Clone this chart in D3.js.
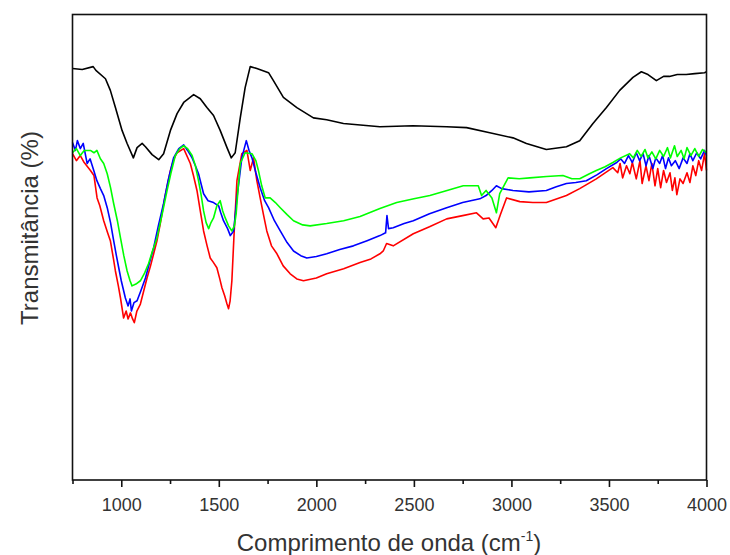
<!DOCTYPE html>
<html>
<head>
<meta charset="utf-8">
<script src="https://cdn.jsdelivr.net/npm/d3@7"></script>
<style>
body { margin: 0; background: #fff; }
</style>
</head>
<body>
<div id="chart"></div>
<script>
// FTIR spectra: [wavenumber (cm-1), transmittance]
var black = [[750,88.4],[800,88.2],[856,88.8],[870,88.0],[919,86.2],[944,83.7],[970,80.0],[1004,75.1],[1030,72.3],[1062,69.2],
    [1081,71.4],[1107,72.3],[1124,71.6],[1158,69.9],[1192,68.8],[1217,70.1],[1252,75.1],[1286,78.7],[1320,81.1],[1371,82.8],
    [1405,81.9],[1439,80.0],[1473,78.3],[1507,75.1],[1542,71.4],[1564,69.2],[1584,70.3],[1610,77.8],[1635,84.3],[1661,88.8],
    [1695,88.4],[1755,87.5],[1780,85.8],[1831,82.2],[1900,80.0],[1985,77.8],[2053,77.4],[2139,76.6],[2326,75.9],[2495,76.1],
    [2668,75.9],[2770,75.7],[2889,74.6],[3008,73.5],[3077,72.3],[3179,71.0],[3282,71.6],[3350,72.9],[3418,76.6],[3487,80.0],
    [3555,83.7],[3623,86.5],[3666,87.7],[3700,87.1],[3743,85.8],[3780,86.7],[3810,86.7],[3850,87.1],[3896,87.1],[3940,87.3],
    [3990,87.5],[4000,87.7]];

var red = [[750,70.1],[770,68.6],[790,69.7],[810,68.2],[842,66.5],[860,65.4],[876,60.6],[890,58.9],[910,55.7],[930,53.1],
    [944,51.4],[960,47.5],[970,44.9],[985,41.7],[996,39.1],[1012,34.8],[1025,36.3],[1035,34.6],[1047,35.9],[1058,34.6],
    [1067,33.8],[1080,36.3],[1098,37.8],[1115,40.6],[1132,43.4],[1150,46.0],[1166,48.6],[1183,51.4],[1200,55.1],[1225,61.1],
    [1252,66.5],[1270,69.0],[1286,70.3],[1320,71.2],[1354,68.0],[1370,65.4],[1388,62.2],[1405,57.8],[1422,53.5],[1440,50.3],
    [1456,47.7],[1473,46.7],[1490,45.6],[1505,43.2],[1516,41.3],[1530,39.6],[1542,37.8],[1550,36.8],[1558,38.5],[1567,42.8],
    [1579,53.5],[1593,64.3],[1618,70.1],[1644,70.8],[1661,66.5],[1678,69.2],[1695,64.3],[1712,60.6],[1730,56.8],[1746,53.5],
    [1770,50.3],[1798,48.6],[1830,46.0],[1866,44.3],[1900,43.2],[1934,42.8],[2000,43.4],[2053,44.3],[2140,45.4],[2224,46.7],
    [2280,47.5],[2326,48.6],[2343,49.2],[2360,50.8],[2394,50.3],[2497,52.9],[2580,54.4],[2668,56.1],[2750,56.8],[2821,57.4],
    [2855,56.1],[2885,56.3],[2920,54.2],[2945,57.2],[2975,60.6],[3043,59.8],[3110,59.6],[3179,59.6],[3282,61.1],[3350,62.6],
    [3435,64.7],[3520,67.1],[3545,66.0],[3557,68.0],[3570,64.9],[3590,67.5],[3607,65.8],[3620,68.2],[3640,64.7],[3659,68.6],
    [3670,63.7],[3690,67.5],[3705,64.3],[3720,68.0],[3736,63.2],[3750,66.9],[3765,62.8],[3780,66.5],[3795,63.9],[3813,66.0],
    [3825,62.2],[3838,64.9],[3848,61.3],[3864,64.7],[3880,63.7],[3900,66.0],[3915,63.9],[3930,67.5],[3945,65.4],[3960,68.6],
    [3975,66.5],[3990,70.1],[4000,66.5]];

var blue = [[750,72.5],[765,70.8],[775,72.9],[790,71.2],[805,72.3],[825,68.0],[840,69.0],[859,66.5],[875,64.3],[893,62.6],
    [910,61.1],[928,58.5],[945,55.3],[961,51.4],[975,48.2],[987,45.6],[1000,42.8],[1021,39.1],[1035,37.4],[1045,38.9],
    [1052,36.3],[1065,38.1],[1081,38.5],[1100,40.6],[1124,43.4],[1145,46.7],[1166,49.9],[1190,54.6],[1217,59.4],[1240,64.3],
    [1268,69.2],[1295,71.2],[1320,72.0],[1340,70.8],[1363,69.2],[1380,67.5],[1396,65.8],[1422,61.5],[1445,60.0],[1473,59.6],
    [1499,58.9],[1510,57.4],[1524,55.7],[1545,54.0],[1559,52.5],[1576,53.5],[1593,60.6],[1618,69.2],[1641,72.9],[1655,70.8],
    [1670,69.2],[1690,66.0],[1712,62.8],[1735,60.0],[1755,58.5],[1785,55.7],[1815,53.5],[1850,51.0],[1883,49.2],[1920,48.2],
    [1951,47.7],[2000,48.0],[2053,48.6],[2120,49.5],[2190,50.3],[2260,51.4],[2326,52.5],[2355,53.1],[2362,56.8],[2370,54.0],
    [2394,54.2],[2450,55.1],[2497,55.7],[2580,57.2],[2668,58.5],[2750,59.6],[2838,60.4],[2870,61.1],[2900,62.2],[2923,63.2],
    [2950,62.6],[3008,62.2],[3090,61.9],[3179,62.2],[3230,63.0],[3282,63.7],[3330,63.9],[3384,64.3],[3440,65.6],[3487,66.9],
    [3540,68.2],[3560,69.0],[3580,68.0],[3600,69.7],[3620,68.2],[3640,70.3],[3657,68.6],[3675,70.1],[3690,67.5],[3705,69.7],
    [3725,66.9],[3740,69.2],[3760,68.0],[3775,69.7],[3790,66.9],[3805,69.2],[3820,67.5],[3840,68.6],[3860,66.9],[3880,69.2],
    [3900,68.0],[3915,70.1],[3930,68.6],[3950,70.3],[3970,69.0],[3990,70.8],[4000,69.7]];

var green = [[750,70.3],[770,71.2],[790,69.7],[810,70.8],[842,70.8],[860,70.3],[875,70.8],[893,69.0],[910,68.0],[928,65.8],
    [945,62.8],[961,59.4],[980,55.7],[996,52.0],[1013,48.2],[1030,44.9],[1045,42.8],[1055,41.7],[1075,42.1],[1098,42.8],
    [1120,44.5],[1140,46.5],[1160,49.2],[1183,52.0],[1210,57.2],[1235,62.2],[1255,66.0],[1277,69.7],[1300,71.2],[1320,71.8],
    [1340,71.2],[1363,69.7],[1380,67.5],[1396,64.3],[1410,61.1],[1422,57.8],[1435,55.3],[1448,54.0],[1460,55.3],[1473,56.3],
    [1490,58.9],[1507,60.0],[1520,57.8],[1533,56.3],[1550,54.6],[1567,53.5],[1580,54.6],[1589,57.2],[1600,63.2],[1610,68.0],
    [1635,70.3],[1670,70.1],[1690,68.6],[1703,66.5],[1720,63.2],[1738,60.6],[1763,60.6],[1790,59.6],[1815,58.5],[1850,57.0],
    [1883,55.7],[1930,54.8],[1968,54.6],[2053,55.1],[2140,55.7],[2224,56.6],[2326,58.3],[2412,59.6],[2500,60.4],[2582,61.1],
    [2670,62.2],[2753,63.2],[2830,63.2],[2847,61.1],[2870,62.2],[2900,60.6],[2923,57.4],[2940,61.5],[2983,64.9],[3040,64.7],
    [3094,64.9],[3180,65.2],[3264,65.4],[3310,64.7],[3350,64.7],[3400,65.8],[3435,66.5],[3480,67.3],[3520,68.2],[3560,69.2],
    [3606,70.1],[3625,69.2],[3645,70.8],[3665,69.5],[3685,71.0],[3700,69.2],[3720,70.5],[3740,69.0],[3760,70.8],[3780,69.5],
    [3800,71.4],[3815,69.2],[3836,71.8],[3850,69.5],[3870,70.8],[3885,69.0],[3900,71.4],[3920,69.7],[3940,71.2],[3960,69.5],
    [3980,71.0],[4000,70.3]];

var majorTicks = [1000, 1500, 2000, 2500, 3000, 3500, 4000];
var minorTicks = [750, 1250, 1750, 2250, 2750, 3250, 3750];

var margin = { top: 14.5, right: 23.5, bottom: 75, left: 72.5 },
    width = 730 - margin.left - margin.right,
    height = 555 - margin.top - margin.bottom;

var svg = d3.select("#chart").append("svg")
    .attr("width", 730)
    .attr("height", 555)
    .style("font-family", "'Liberation Sans', Arial, sans-serif");

var g = svg.append("g")
    .attr("transform", "translate(" + margin.left + "," + margin.top + ")");

var x = d3.scaleLinear().domain([750, 4000]).range([0, width]);
var y = d3.scaleLinear().domain([0, 100]).range([height, 0]);

var line = d3.line()
    .x(function(d) { return x(d[0]); })
    .y(function(d) { return y(d[1]); });

// spectra
var series = [
    { data: black, color: "#000000" },
    { data: red, color: "#ff0000" },
    { data: blue, color: "#0000ff" },
    { data: green, color: "#00ff00" }
];
series.forEach(function(s) {
    g.append("path")
        .datum(s.data)
        .attr("d", line)
        .attr("fill", "none")
        .attr("stroke", s.color)
        .attr("stroke-width", 1.6)
        .attr("stroke-linejoin", "round");
});

// minor ticks
var minorAxis = g.append("g")
    .attr("transform", "translate(0," + height + ")")
    .call(d3.axisBottom(x).tickValues(minorTicks).tickSize(4).tickFormat(""));
minorAxis.select(".domain").remove();

// major ticks
var majorAxis = g.append("g")
    .attr("transform", "translate(0," + height + ")")
    .call(d3.axisBottom(x).tickValues(majorTicks).tickSize(7).tickPadding(11).tickFormat(d3.format("d")));
majorAxis.select(".domain").remove();
majorAxis.selectAll("text")
    .style("font-size", "18px")
    .attr("fill", "#333");

g.selectAll(".tick line").attr("stroke", "#111").attr("stroke-width", 1.6);

// frame
g.append("rect")
    .attr("width", width)
    .attr("height", height)
    .attr("fill", "none")
    .attr("stroke", "#111")
    .attr("stroke-width", 1.6);

// axis titles
var xt = svg.append("text")
    .attr("x", 389)
    .attr("y", 551)
    .attr("text-anchor", "middle")
    .style("font-size", "24px")
    .attr("fill", "#333")
    .text("Comprimento de onda (cm");
xt.append("tspan").attr("dy", -10).style("font-size", "14px").text("-1");
xt.append("tspan").attr("dy", 10).text(")");

svg.append("text")
    .attr("transform", "translate(38,228) rotate(-90)")
    .attr("text-anchor", "middle")
    .style("font-size", "24px")
    .attr("fill", "#333")
    .text("Transmitância (%)");
</script>
</body>
</html>
